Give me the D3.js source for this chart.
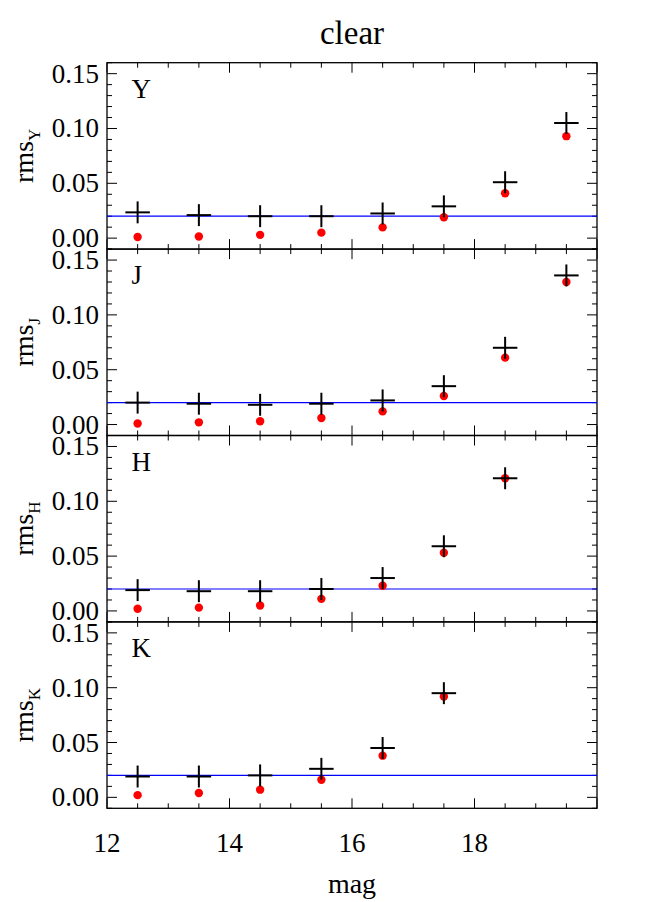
<!DOCTYPE html>
<html><head><meta charset="utf-8">
<script src="https://cdn.jsdelivr.net/npm/d3@7"></script>
<style>body{margin:0;background:#fff}text{font-family:"Liberation Serif","DejaVu Serif",serif}</style>
</head><body><svg id="c" width="667" height="902"></svg>
<script>
const mags = [12.5,13.5,14.5,15.5,16.5,17.5,18.5,19.5];
const bands = ["Y","J","H","K"];
const crossY = [0.0235,0.021,0.020,0.020,0.0225,0.029,0.051,0.105];
const dotY   = [0.001,0.0015,0.003,0.005,0.0098,0.019,0.041,0.093];
const crossJ = [0.020,0.019,0.018,0.019,0.022,0.035,0.070,0.136];
const dotJ   = [0.001,0.002,0.003,0.006,0.012,0.026,0.061,0.130];
const crossH = [0.019,0.018,0.018,0.020,0.030,0.059,0.121];
const dotH   = [0.002,0.003,0.005,0.011,0.023,0.053,0.121];
const crossK = [0.019,0.019,0.020,0.026,0.045,0.095];
const dotK   = [0.002,0.004,0.007,0.016,0.038,0.092];
const errs = [0.010,0.010,0.010,0.010,0.010,0.010,0.010,0.010];
const refLevel = 0.02;
const xTicks = [12,14,16,18];
const yTicks = [0.00,0.05,0.10,0.15];
const crosses = [crossY,crossJ,crossH,crossK];
const dots = [dotY,dotJ,dotH,dotK];

const svg = d3.select("#c");
const L=107, R=597, T=62.7, PH=186.4;
const x = d3.scaleLinear().domain([12,20]).range([L,R]);
svg.append("text").attr("x",352).attr("y",44).attr("text-anchor","middle").attr("font-size",33).text("clear");

bands.forEach((b,i)=>{
  const top=T+i*PH, bot=top+PH;
  const y=d3.scaleLinear().domain([-0.01,0.16]).range([bot,top]);
  const g=svg.append("g");
  d3.range(-0.01,0.1601,0.01).forEach(v=>{
    v=Math.round(v*100)/100;
    const maj=Math.abs(Math.round(v*20)-v*20)<1e-6;
    const len=maj?10:5;
    g.append("line").attr("x1",L).attr("x2",L+len).attr("y1",y(v)).attr("y2",y(v)).attr("stroke","#000");
    g.append("line").attr("x1",R).attr("x2",R-len).attr("y1",y(v)).attr("y2",y(v)).attr("stroke","#000");
  });
  d3.range(12,20.01,0.5).forEach(v=>{
    const maj=v%2===0, len=maj?10:5;
    g.append("line").attr("x1",x(v)).attr("x2",x(v)).attr("y1",bot).attr("y2",bot-len).attr("stroke","#000");
    g.append("line").attr("x1",x(v)).attr("x2",x(v)).attr("y1",top).attr("y2",top+len).attr("stroke","#000");
  });
  yTicks.forEach(v=>g.append("text").attr("x",L-8).attr("y",y(v)+9).attr("text-anchor","end").attr("font-size",27).text(v.toFixed(2)));
  g.append("rect").attr("x",L).attr("y",top).attr("width",R-L).attr("height",PH).attr("fill","none").attr("stroke","#000").attr("stroke-width",1.3);
  g.append("text").attr("x",x(12.4)).attr("y",top+35).attr("font-size",27).text(b);
  const yl=g.append("text").attr("transform",`translate(33,${(top+bot)/2}) rotate(-90)`).attr("text-anchor","middle").attr("font-size",28);
  yl.append("tspan").text("rms");
  yl.append("tspan").attr("font-size",17).attr("dy",7).text(b);
  g.append("line").attr("x1",L).attr("x2",R).attr("y1",y(refLevel)).attr("y2",y(refLevel)).attr("stroke","#0000ff").attr("stroke-width",1.2);
  dots[i].forEach((v,j)=>g.append("circle").attr("cx",x(mags[j])).attr("cy",y(v)).attr("r",4.2).attr("fill","#ff0000"));
  crosses[i].forEach((v,j)=>{
    g.append("line").attr("x1",x(mags[j]-0.2)).attr("x2",x(mags[j]+0.2)).attr("y1",y(v)).attr("y2",y(v)).attr("stroke","#000").attr("stroke-width",2);
    g.append("line").attr("x1",x(mags[j])).attr("x2",x(mags[j])).attr("y1",y(v-errs[j])).attr("y2",y(v+errs[j])).attr("stroke","#000").attr("stroke-width",2);
  });
  if(i===3){
    xTicks.forEach(v=>svg.append("text").attr("x",x(v)).attr("y",bot+44).attr("text-anchor","middle").attr("font-size",27).text(v));
  }
});
svg.append("text").attr("x",352).attr("y",893).attr("text-anchor","middle").attr("font-size",28).text("mag");
</script></body></html>
